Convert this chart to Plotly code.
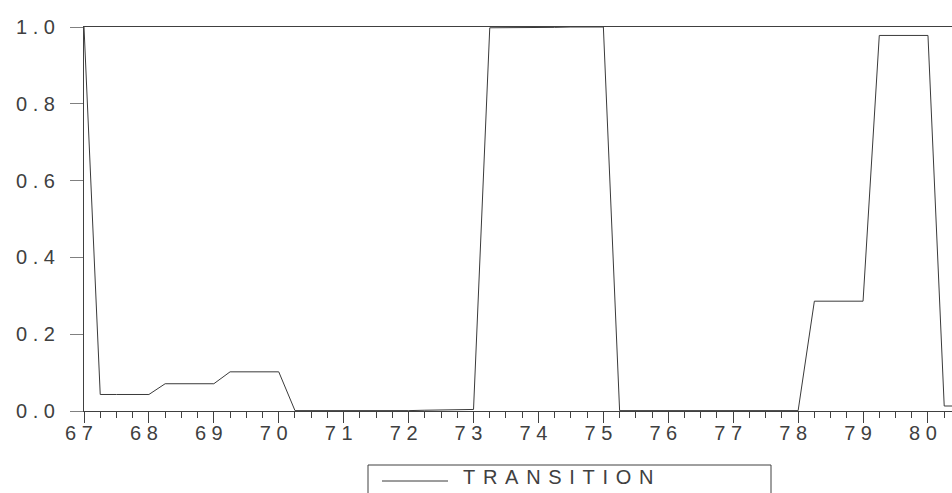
import plotly.graph_objects as go

# ---- data ----
start_year = 1967
start_quarter = 1
transition = [
    1.000,
    0.043, 0.043, 0.043, 0.043,
    0.071, 0.071, 0.071, 0.071,
    0.102, 0.102, 0.102, 0.102,
    0.001, 0.001, 0.000, 0.000, 0.000, 0.001, 0.001, 0.001, 0.002, 0.003, 0.003, 0.004,
    0.998, 0.998, 0.998, 0.999, 0.999, 1.000, 1.000, 1.000,
    0.001, 0.001, 0.001, 0.001, 0.001, 0.001, 0.001, 0.001, 0.001, 0.001, 0.001, 0.001,
    0.286, 0.286, 0.286, 0.286,
    0.978, 0.978, 0.978, 0.978,
    0.013, 0.013,
]
year_ticks = list(range(1967, 1981))
year_labels = ["6 7", "6 8", "6 9", "7 0", "7 1", "7 2", "7 3",
               "7 4", "7 5", "7 6", "7 7", "7 8", "7 9", "8 0"]
y_ticks = [0.0, 0.2, 0.4, 0.6, 0.8, 1.0]
y_labels = ["0 . 0", "0 . 2", "0 . 4", "0 . 6", "0 . 8", "1 . 0"]
series_name = "TRANSITION"

# quarterly time positions
x = [start_year + (start_quarter - 1 + i) / 4 for i in range(len(transition))]

W, H = 952, 493
ML, MR, MT, MB = 84, 0, 27, 82
PW, PH = W - ML - MR, H - MT - MB

def px_x(p):
    return (p - ML) / PW

def px_y(p):
    return (H - MB - p) / PH

INK = "#404040"
FONT = dict(family="Liberation Sans, Arial, sans-serif", size=20, color=INK)

fig = go.Figure()
fig.add_trace(go.Scatter(x=x, y=transition, mode="lines",
                         line=dict(color="#3a3a3a", width=1),
                         name=series_name, showlegend=False, hoverinfo="skip"))

fig.update_layout(
    width=W, height=H,
    margin=dict(l=ML, r=MR, t=MT, b=MB, autoexpand=False),
    paper_bgcolor="white", plot_bgcolor="white",
    font=FONT,
    showlegend=False,
)
fig.update_xaxes(
    range=[1967, 1967 + 53.48 / 4],
    tickmode="array", tickvals=year_ticks, ticktext=year_labels,
    ticks="outside", ticklen=11, tickwidth=1, tickcolor=INK,
    minor=dict(dtick=0.25, tick0=1967, ticks="outside", ticklen=6,
               tickwidth=1, tickcolor=INK, showgrid=False),
    showline=True, linecolor=INK, linewidth=1, mirror=True,
    showgrid=False, zeroline=False, tickfont=FONT,
    ticklabelstandoff=-7, ticklabelshift=-5,
)
fig.update_yaxes(
    range=[0, 1],
    tickmode="array", tickvals=y_ticks, ticktext=y_labels,
    ticks="outside", ticklen=13, tickwidth=1, tickcolor="#808080",
    showline=True, linecolor=INK, linewidth=1,
    showgrid=False, zeroline=False, tickfont=FONT, ticklabelstandoff=11,
)

# legend box drawn manually (extends beyond bottom edge like the reference)
spaced_name = '<span style="font-size:27.7px"> </span>'.join(series_name)
fig.add_shape(type="rect", xref="paper", yref="paper",
              x0=px_x(368), x1=px_x(771), y0=px_y(530), y1=px_y(465),
              line=dict(color=INK, width=1), fillcolor="rgba(0,0,0,0)")
fig.add_shape(type="line", xref="paper", yref="paper",
              x0=px_x(382), x1=px_x(448), y0=px_y(481), y1=px_y(481),
              line=dict(color="#3a3a3a", width=1))
fig.add_annotation(xref="paper", yref="paper", x=px_x(461), y=px_y(474),
                   xanchor="left", yanchor="middle", showarrow=False,
                   text=spaced_name, font=FONT)

fig.write_html("out.html")
